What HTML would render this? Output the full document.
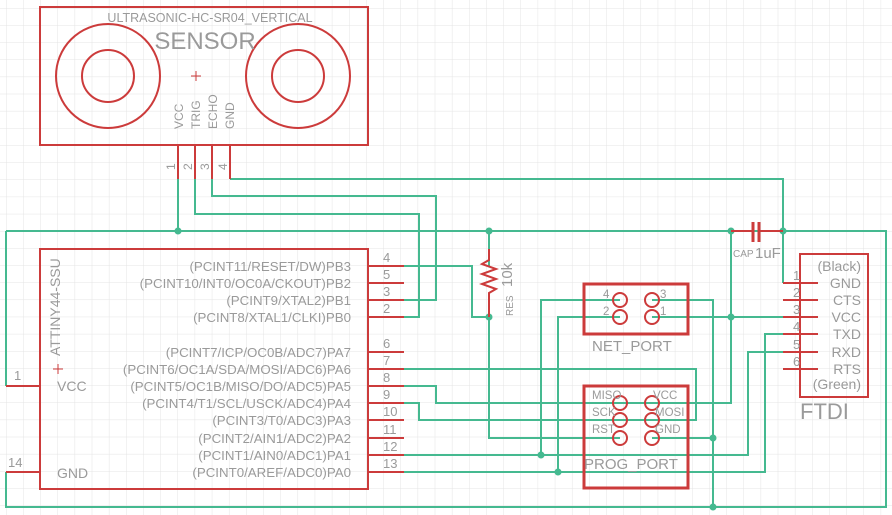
<!DOCTYPE html>
<html><head><style>
html,body{margin:0;padding:0;background:#fff;}
svg{display:block;}
text{font-family:"Liberation Sans",sans-serif;fill:#9a9a9a;}
</style></head><body>
<svg width="892" height="515" viewBox="0 0 892 515" xmlns="http://www.w3.org/2000/svg">
<defs>
<pattern id="g" x="6" y="8" width="17.15" height="17.15" patternUnits="userSpaceOnUse">
<path d="M0 0H17.15M0 0V17.15" stroke="#e4e4e4" stroke-width="1" fill="none"/>
</pattern>
</defs>
<rect width="892" height="515" fill="url(#g)"/>

<g stroke="#45b990" stroke-width="2" fill="none">
<path d="M178 179V231M6 231H886V507H6V472M6 231V386"/>
<path d="M212 179V196H436V300H404"/>
<path d="M195 179V214H419V317H404"/>
<path d="M230 179H783V283"/>
<path d="M404 266H472V317H489V438H620"/>
<path d="M489 231V266M489 300V317"/>
<path d="M731 231V403H652M652 317H800"/>
<path d="M620 300H541V455M404 455H748V352H800"/>
<path d="M652 300H713V507M652 438H713"/>
<path d="M620 317H558V472M404 472H765V334H800"/>
<path d="M404 369H696V420H419V403H404"/>
<path d="M404 386H436V403H731"/>
</g>
<g fill="#45b990">
<circle cx="178" cy="231" r="3.5"/><circle cx="489" cy="231" r="3.5"/><circle cx="489" cy="317" r="3.5"/>
<circle cx="731" cy="231" r="3.5"/><circle cx="783" cy="231" r="3.5"/><circle cx="731" cy="317" r="3.5"/>
<circle cx="541" cy="455" r="3.5"/><circle cx="558" cy="472" r="3.5"/><circle cx="713" cy="438" r="3.5"/><circle cx="713" cy="507" r="3.5"/>
</g>

<g stroke="#cc3b3b" stroke-width="2" fill="none">
<rect x="40" y="7" width="328" height="138"/>
<circle cx="108" cy="76" r="52"/><circle cx="108" cy="76" r="26"/>
<circle cx="298" cy="76" r="52"/><circle cx="298" cy="76" r="26"/>
<path d="M178 145V179M195 145V179M212 145V179M230 145V179"/>
<rect x="40" y="249" width="328" height="240"/>
<path d="M368 266H404M368 283H404M368 300H404M368 317H404M368 352H404M368 369H404M368 386H404M368 403H404M368 420H404M368 438H404M368 455H404M368 472H404"/>
<path d="M6 386H40M6 472H40"/>
<path d="M489 249V260L482 264L496 269L482 274L496 279L482 284L496 289L489 293V317"/>
<path d="M731 231H752M760 231H783"/>
<path d="M753 222V242M759 222V242" stroke-width="3"/>
<rect x="584" y="284" width="104" height="50" stroke-width="3"/>
<rect x="584" y="386" width="104" height="102" stroke-width="3"/>
<circle cx="620" cy="300" r="7"/><circle cx="652" cy="300" r="7"/><circle cx="620" cy="317" r="7"/><circle cx="652" cy="317" r="7"/>
<circle cx="620" cy="403" r="7"/><circle cx="652" cy="403" r="7"/><circle cx="620" cy="420" r="7"/><circle cx="652" cy="420" r="7"/><circle cx="620" cy="438" r="7"/><circle cx="652" cy="438" r="7"/>
<rect x="800" y="254" width="68" height="143"/>
<path d="M783 283H818M783 300H818M783 317H818M783 334H818M783 352H818M783 369H818"/>
<path d="M191 76H201M196 71V81M53 369H63M58 364V374" stroke-width="1"/>
</g>

<text x="210" y="22" font-size="12.5" text-anchor="middle">ULTRASONIC-HC-SR04_VERTICAL</text>
<text x="205" y="49" font-size="24" text-anchor="middle">SENSOR</text>
<g font-size="12">
<text transform="translate(183 129) rotate(-90)">VCC</text>
<text transform="translate(200 129) rotate(-90)">TRIG</text>
<text transform="translate(217 129) rotate(-90)">ECHO</text>
<text transform="translate(234 129) rotate(-90)">GND</text>
<text transform="translate(175 170) rotate(-90)">1</text>
<text transform="translate(192 170) rotate(-90)">2</text>
<text transform="translate(209 170) rotate(-90)">3</text>
<text transform="translate(227 170) rotate(-90)">4</text>
</g>

<text transform="translate(60 356) rotate(-90)" font-size="14">ATTINY44-SSU</text>
<text x="57" y="391" font-size="14">VCC</text>
<text x="57" y="478" font-size="14">GND</text>
<text x="14" y="380" font-size="13">1</text>
<text x="8" y="467" font-size="13">14</text>
<g font-size="13.3" text-anchor="end">
<text x="351" y="271">(PCINT11/RESET/DW)PB3</text>
<text x="351" y="288">(PCINT10/INT0/OC0A/CKOUT)PB2</text>
<text x="351" y="305">(PCINT9/XTAL2)PB1</text>
<text x="351" y="322">(PCINT8/XTAL1/CLKI)PB0</text>
<text x="351" y="357">(PCINT7/ICP/OC0B/ADC7)PA7</text>
<text x="351" y="374">(PCINT6/OC1A/SDA/MOSI/ADC6)PA6</text>
<text x="351" y="391">(PCINT5/OC1B/MISO/DO/ADC5)PA5</text>
<text x="351" y="408">(PCINT4/T1/SCL/USCK/ADC4)PA4</text>
<text x="351" y="425">(PCINT3/T0/ADC3)PA3</text>
<text x="351" y="443">(PCINT2/AIN1/ADC2)PA2</text>
<text x="351" y="460">(PCINT1/AIN0/ADC1)PA1</text>
<text x="351" y="477">(PCINT0/AREF/ADC0)PA0</text>
</g>
<g font-size="13">
<text x="383" y="262">4</text><text x="383" y="279">5</text><text x="383" y="296">3</text><text x="383" y="313">2</text>
<text x="383" y="348">6</text><text x="383" y="365">7</text><text x="383" y="382">8</text><text x="383" y="399">9</text>
<text x="383" y="416">10</text><text x="383" y="434">11</text><text x="383" y="451">12</text><text x="383" y="468">13</text>
</g>

<text transform="translate(512 287) rotate(-90)" font-size="15">10k</text>
<text transform="translate(513 316) rotate(-90)" font-size="10">RES</text>
<text x="733" y="257" font-size="10">CAP</text>
<text x="755" y="258" font-size="15">1uF</text>

<g font-size="11.5">
<text x="603" y="298">4</text><text x="660" y="298">3</text><text x="603" y="315">2</text><text x="660" y="315">1</text>
<text x="592" y="399">MISO</text><text x="653" y="399">VCC</text>
<text x="592" y="416">SCK</text><text x="655" y="416">MOSI</text>
<text x="592" y="433">RST</text><text x="655" y="433">GND</text>
</g>
<text x="592" y="351" font-size="15">NET_PORT</text>
<text x="584" y="469" font-size="15">PROG_PORT</text>

<g font-size="14" text-anchor="end">
<text x="861" y="271">(Black)</text>
<text x="861" y="288">GND</text><text x="861" y="305">CTS</text><text x="861" y="322">VCC</text>
<text x="861" y="339">TXD</text><text x="861" y="357">RXD</text><text x="861" y="374">RTS</text>
<text x="861" y="389">(Green)</text>
</g>
<g font-size="13">
<text x="793" y="280">1</text><text x="793" y="297">2</text><text x="793" y="314">3</text>
<text x="793" y="331">4</text><text x="793" y="349">5</text><text x="793" y="366">6</text>
</g>
<text x="800" y="419" font-size="22">FTDI</text>
</svg>
</body></html>
